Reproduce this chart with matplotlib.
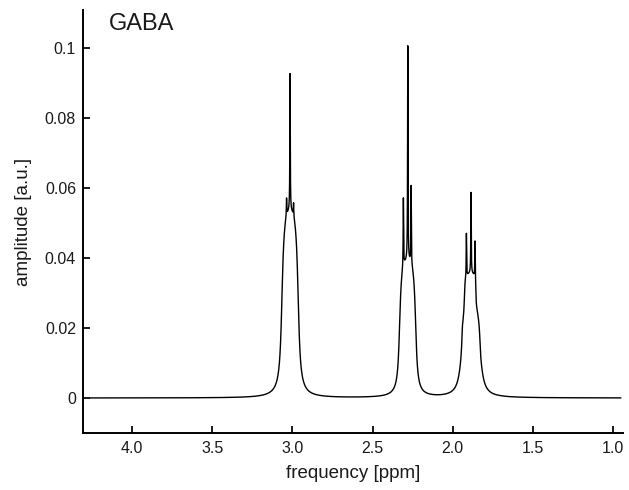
import numpy as np
import matplotlib
matplotlib.use('Agg')
import matplotlib.pyplot as plt

plt.rcParams['font.family'] = ['Liberation Sans', 'DejaVu Sans']

# broad multiplet envelopes: centre [ppm], plateau height, half-width [ppm], edge width [ppm]
env_center = [3.0144, 2.281, 1.8863, 1.8863, 1.8915]
env_height = [0.0535, 0.039, 0.0185, 0.0085, 0.0085]
env_halfwidth = [0.0505, 0.050, 0.060, 0.056, 0.036]
env_gamma = [0.011, 0.0095, 0.020, 0.004, 0.002]

# sharp lines sitting on the envelopes: position [ppm] and peak amplitude
line_ppm = [3.0363, 3.0144, 2.9925, 2.3075, 2.280, 2.2594,
            1.9394, 1.9144, 1.8856, 1.8606, 1.8331]
line_top = [0.057, 0.0927, 0.0556, 0.057, 0.1005, 0.0604,
            0.0205, 0.047, 0.0587, 0.0448, 0.0194]
line_gamma = 0.0015

x_ticks = [4.0, 3.5, 3.0, 2.5, 2.0, 1.5, 1.0]
y_ticks = [0, 0.02, 0.04, 0.06, 0.08, 0.1]
y_ticklabels = ['0', '0.02', '0.04', '0.06', '0.08', '0.1']


def flat_top(x, c, a, g):
    # box of half-width a convolved with a Lorentzian, 1 at the centre
    return (np.arctan((x - c + a) / g) - np.arctan((x - c - a) / g)) / (2 * np.arctan(a / g))


def envelope(x):
    y = np.zeros_like(x, dtype=float)
    for c, h, a, g in zip(env_center, env_height, env_halfwidth, env_gamma):
        y += h * flat_top(x, c, a, g)
    return y


ppm = np.linspace(4.262, 0.952, 200001)
amp = envelope(ppm)
for pos, top in zip(line_ppm, line_top):
    h = max(top - envelope(np.array([pos]))[0], 0)
    amp += h * line_gamma**2 / ((ppm - pos)**2 + line_gamma**2)

fig = plt.figure(figsize=(6.29, 4.90), dpi=100)
ax = fig.add_axes([83 / 629, 57 / 490, 540 / 629, 423 / 490])

ax.plot(ppm, amp, color='black', lw=1.0)

ax.set_xlim(4.306, 0.9375)
ax.set_ylim(-0.01, 0.1109)
ax.set_xticks(x_ticks)
ax.set_xticklabels([f'{t:.1f}' for t in x_ticks])
ax.set_yticks(y_ticks)
ax.set_yticklabels(y_ticklabels)

for s in ['top', 'right']:
    ax.spines[s].set_visible(False)
for s in ['left', 'bottom']:
    ax.spines[s].set_linewidth(1.4)
ax.tick_params(direction='in', length=5, width=1.4, labelsize=11.5, colors='#1a1a1a')
ax.tick_params(axis='x', pad=6)
ax.tick_params(axis='y', pad=5)

ax.set_xlabel('frequency [ppm]', fontsize=13.5, color='#1a1a1a', labelpad=6)
ax.set_ylabel('amplitude [a.u.]', fontsize=13.5, color='#1a1a1a', labelpad=9)
fig.text(109 / 629, 1 - 13 / 490, 'GABA', fontsize=17, va='top', color='#1a1a1a')

fig.savefig('out.png', dpi=100)
